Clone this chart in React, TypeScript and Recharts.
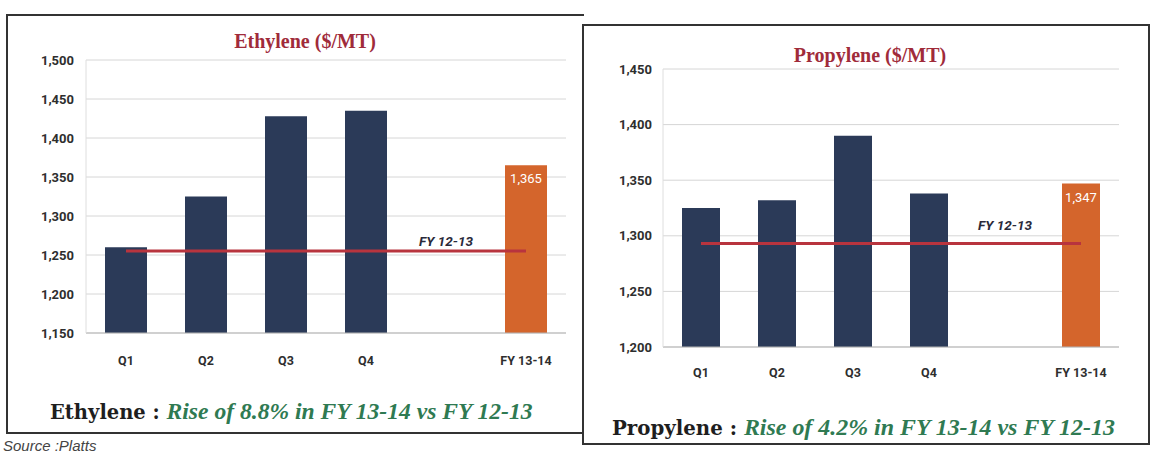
import { ComposedChart, Bar, Line, XAxis, YAxis, CartesianGrid, Cell, LabelList } from 'recharts'

const categories = ['Q1', 'Q2', 'Q3', 'Q4', '', 'FY 13-14']

const ethyleneValues = [1260, 1325, 1428, 1435, null, 1365]
const ethyleneTagged = [null, null, null, null, null, 1365]
const ethylenePrevYear = [1255, 1255, 1255, 1255, 1255, 1255]
const ethyleneTicks = [1150, 1200, 1250, 1300, 1350, 1400, 1450, 1500]

const propyleneValues = [1325, 1332, 1390, 1338, null, 1347]
const propyleneTagged = [null, null, null, null, null, 1347]
const propylenePrevYear = [1293, 1293, 1293, 1293, 1293, 1293]
const propyleneTicks = [1200, 1250, 1300, 1350, 1400, 1450]

const NAVY = '#2b3a58'
const ORANGE = '#d4652c'
const RED_LINE = '#b8343e'
const TICK_FONT = 'Roboto, "Liberation Sans", sans-serif'

const buildRows = (values: (number | null)[], tagged: (number | null)[], prev: number[]) =>
  categories.map((cat, i) => ({ cat, value: values[i], tag: tagged[i], prev: prev[i] }))

interface PanelProps {
  values: (number | null)[]
  tagged: (number | null)[]
  prev: number[]
  ticks: number[]
  width: number
  height: number
  margin: { top: number; right: number; bottom: number; left: number }
  yWidth: number
  barSize: number
  xTickMargin: number
  yTickMargin: number
  fyGap: number
}

function PriceChart(props: PanelProps) {
  const { values, tagged, prev, ticks, width, height, margin, yWidth, barSize, xTickMargin, yTickMargin, fyGap } = props
  const data = buildRows(values, tagged, prev)
  const last = categories.length - 1

  return (
    <ComposedChart width={width} height={height} data={data} margin={margin}>
      <CartesianGrid vertical={false} stroke="#d6d6d6" />
      <XAxis
        dataKey="cat"
        interval={0}
        tickLine={false}
        axisLine={{ stroke: '#b5b5b5' }}
        tickMargin={xTickMargin}
        tick={{ fill: '#2e2e2e', fontSize: 12.5, fontWeight: 700, fontFamily: TICK_FONT }}
      />
      <YAxis
        width={yWidth}
        domain={[ticks[0], ticks[ticks.length - 1]]}
        ticks={ticks}
        tickLine={false}
        axisLine={{ stroke: '#dedede' }}
        tickMargin={yTickMargin}
        tickFormatter={(v: number) => v.toLocaleString('en-US')}
        tick={{ fill: '#2e2e2e', fontSize: 13, fontWeight: 700, fontFamily: TICK_FONT }}
      />
      <YAxis yAxisId="edge" orientation="right" width={0} tick={false} tickLine={false} axisLine={{ stroke: '#dedede' }} />
      <Bar dataKey="value" barSize={barSize} isAnimationActive={false}>
        {data.map((_, i) => (
          <Cell key={i} fill={i === last ? ORANGE : NAVY} />
        ))}
        <LabelList
          dataKey="tag"
          content={(p: any) =>
            p.value != null ? (
              <text
                x={p.x + p.width / 2}
                y={p.y + 18}
                textAnchor="middle"
                fill="#fff"
                fontSize={13}
                fontFamily={TICK_FONT}
              >
                {Number(p.value).toLocaleString('en-US')}
              </text>
            ) : null
          }
        />
      </Bar>
      <Line dataKey="prev" stroke={RED_LINE} strokeWidth={3} dot={false} isAnimationActive={false}>
        <LabelList
          dataKey="prev"
          content={(p: any) =>
            p.index === 4 ? (
              <text
                x={p.x}
                y={p.y - fyGap}
                textAnchor="middle"
                fill="#2a2a3a"
                fontSize={13.5}
                fontWeight={700}
                fontStyle="italic"
                fontFamily={TICK_FONT}
              >
                FY 12-13
              </text>
            ) : null
          }
        />
      </Line>
    </ComposedChart>
  )
}

const titleStyle: React.CSSProperties = {
  position: 'absolute',
  fontFamily: '"Liberation Serif", serif',
  fontWeight: 700,
  fontSize: 20,
  color: '#a02b3a',
  whiteSpace: 'nowrap',
  transform: 'translate(-50%, -50%)',
}

function Caption({ name, text, scale }: { name: string; text: string; scale: number }) {
  return (
    <>
      <span style={{ fontFamily: '"DejaVu Serif", serif', fontSize: 19.5 * scale, fontWeight: 700, color: '#1e1e1e' }}>
        {name} :{' '}
      </span>
      <span
        style={{
          fontStyle: 'italic',
          color: '#2f7a52',
          fontFamily: '"Liberation Serif", serif',
          fontSize: 23.6 * scale,
          fontWeight: 700,
        }}
      >
        {text}
      </span>
    </>
  )
}

export default function App() {
  return (
    <div style={{ position: 'absolute', left: 0, top: 0, width: 1152, height: 454, background: '#fff', overflow: 'hidden' }}>
      {/* panel frames */}
      <div style={{ position: 'absolute', left: 6, top: 14, width: 578, height: 420, border: '2px solid #333', borderRight: 'none', boxSizing: 'border-box' }} />
      <div style={{ position: 'absolute', left: 582, top: 24, width: 568, height: 421, border: '2px solid #333', boxSizing: 'border-box' }} />

      <div style={{ ...titleStyle, left: 305, top: 41 }}>Ethylene ($/MT)</div>
      <div style={{ ...titleStyle, left: 870, top: 55 }}>Propylene ($/MT)</div>

      <div style={{ position: 'absolute', left: 0, top: 30 }}>
        <PriceChart
          values={ethyleneValues}
          tagged={ethyleneTagged}
          prev={ethylenePrevYear}
          ticks={ethyleneTicks}
          width={580}
          height={340}
          margin={{ top: 30, right: 14, bottom: 7, left: 0 }}
          yWidth={86}
          barSize={42}
          xTickMargin={17}
          yTickMargin={6}
          fyGap={5}
        />
      </div>
      <div style={{ position: 'absolute', left: 580, top: 39 }}>
        <PriceChart
          values={propyleneValues}
          tagged={propyleneTagged}
          prev={propylenePrevYear}
          ticks={propyleneTicks}
          width={560}
          height={345}
          margin={{ top: 30, right: 21, bottom: 7, left: 0 }}
          yWidth={83}
          barSize={38}
          xTickMargin={15}
          yTickMargin={5}
          fyGap={14}
        />
      </div>

      <div style={{ position: 'absolute', left: 50, top: 398, whiteSpace: 'nowrap', lineHeight: '26px' }}>
        <Caption name="Ethylene" text="Rise of 8.8% in FY 13-14 vs FY 12-13" scale={1.0} />
      </div>
      <div style={{ position: 'absolute', left: 612, top: 414, whiteSpace: 'nowrap', lineHeight: '26px' }}>
        <Caption name="Propylene" text="Rise of 4.2% in FY 13-14 vs FY 12-13" scale={1.014} />
      </div>

      <div style={{ position: 'absolute', left: 3, top: 437, fontFamily: '"Liberation Sans", sans-serif', fontStyle: 'italic', fontSize: 15, color: '#444' }}>
        Source :Platts
      </div>
    </div>
  )
}
